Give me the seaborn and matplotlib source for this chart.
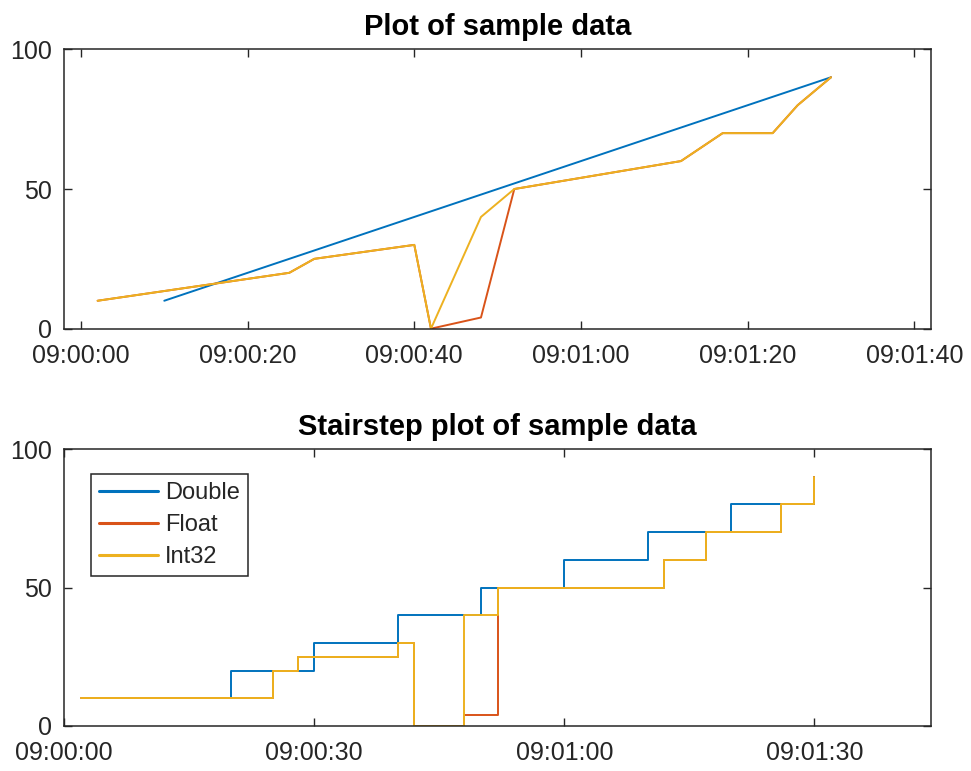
import pandas as pd
import seaborn as sns
from matplotlib import pyplot as plt
from matplotlib import dates as mdates

# sample data: seconds after 09:00:00 and values for each series
double_secs = [10, 20, 30, 40, 50, 60, 70, 80, 90]
double_vals = [10, 20, 30, 40, 50, 60, 70, 80, 90]

float_secs = [2, 25, 28, 40, 42, 48, 52, 72, 77, 83, 86, 90]
float_vals = [10, 20, 25, 30, 0, 4, 50, 60, 70, 70, 80, 90]

int32_secs = [2, 25, 28, 40, 42, 48, 52, 72, 77, 83, 86, 90]
int32_vals = [10, 20, 25, 30, 0, 40, 50, 60, 70, 70, 80, 90]

series_names = ['Double', 'Float', 'Int32']
series_colors = ['#0072BD', '#D95319', '#EDB120']

base = pd.Timestamp('2024-01-01 09:00:00')


def to_time(secs):
    return [base + pd.Timedelta(seconds=s) for s in secs]


frames = []
for name, secs, vals in zip(series_names,
                            [double_secs, float_secs, int32_secs],
                            [double_vals, float_vals, int32_vals]):
    frames.append(pd.DataFrame({'Time': to_time(secs), 'Value': vals,
                                'Type': name}))
df = pd.concat(frames, ignore_index=True)
palette = dict(zip(series_names, series_colors))

sns.set_theme(style='white')
plt.rcParams['font.family'] = ['Liberation Sans', 'DejaVu Sans']
ink = '#262626'

fig = plt.figure(figsize=(9.71, 7.71), dpi=100)
ax1 = fig.add_axes([0.0662, 0.5737, 0.8926, 0.3623])
ax2 = fig.add_axes([0.0662, 0.0584, 0.8926, 0.3592])

sns.lineplot(data=df, x='Time', y='Value', hue='Type', palette=palette,
             estimator=None, linewidth=1.4, legend=False, ax=ax1)
sns.lineplot(data=df, x='Time', y='Value', hue='Type', palette=palette,
             estimator=None, linewidth=1.4, drawstyle='steps-post', ax=ax2)


def style_axes(ax, title, lo, hi, step):
    ax.set_xlim(base + pd.Timedelta(seconds=lo), base + pd.Timedelta(seconds=hi))
    ax.set_ylim(0, 100)
    ax.set_yticks([0, 50, 100])
    ax.set_xticks(to_time(range(0, 101, step)))
    ax.xaxis.set_major_formatter(mdates.DateFormatter('%H:%M:%S'))
    ax.set_xlabel('')
    ax.set_ylabel('')
    ax.set_title(title, fontsize=21, fontweight='bold', color='black', pad=10)
    ax.tick_params(axis='both', direction='in', length=6, width=1,
                   color=ink, labelcolor=ink, labelsize=18,
                   top=True, right=True, bottom=True, left=True)
    ax.tick_params(axis='x', pad=11)
    ax.tick_params(axis='y', pad=9)
    for lbl in ax.get_yticklabels():
        lbl.set_verticalalignment('center_baseline')
    for sp in ax.spines.values():
        sp.set_color(ink)
        sp.set_linewidth(1.1)
        sp.set_visible(True)


style_axes(ax1, 'Plot of sample data', -2, 102, 20)
style_axes(ax2, 'Stairstep plot of sample data', 0, 104, 30)

leg = ax2.legend(loc='upper left', bbox_to_anchor=(0.0305, 0.91),
                 borderaxespad=0, fontsize=17, handlelength=2.5,
                 handletextpad=0.3, labelspacing=0.42, borderpad=0.35,
                 fancybox=False, framealpha=1, edgecolor=ink)
leg.get_frame().set_linewidth(1.1)
for line in leg.get_lines():
    line.set_linewidth(2.2)
for text in leg.get_texts():
    text.set_color(ink)

fig.savefig('out.png', dpi=100)
